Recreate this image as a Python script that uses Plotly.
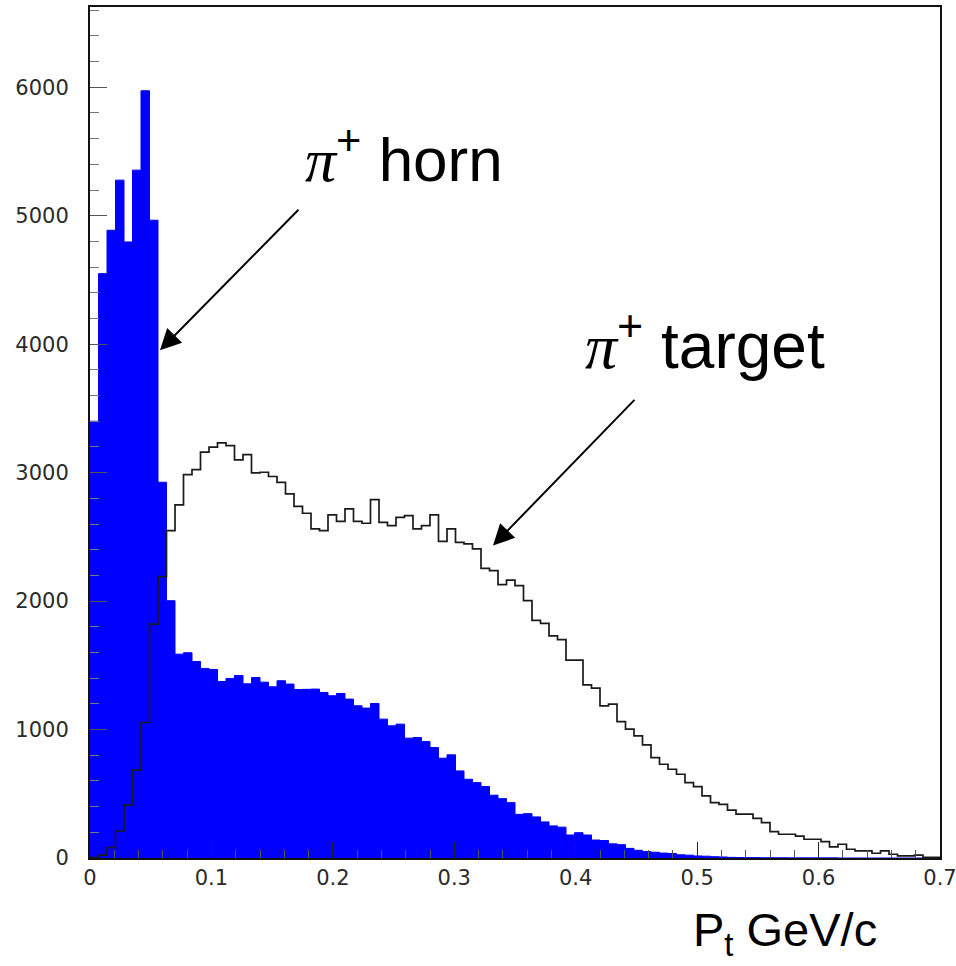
import numpy as np
import plotly.graph_objects as go

# ---- data: 100 bins of width 0.007 GeV/c from 0 to 0.7 ----
bin_width = 0.007
bin_edges = [round(i * bin_width, 3) for i in range(101)]

horn_counts = [
    3400, 4549, 4887, 5277, 4796, 5355, 5973, 4965, 2925, 2003,
    1587, 1598, 1530, 1476, 1468, 1374, 1398, 1421, 1356, 1405,
    1369, 1333, 1380, 1354, 1312, 1313, 1315, 1289, 1263, 1281,
    1237, 1185, 1167, 1203, 1081, 1029, 1042, 933, 938, 906,
    860, 777, 803, 678, 613, 587, 556, 489, 462, 431,
    340, 345, 320, 281, 250, 240, 179, 197, 179, 140,
    136, 110, 104, 75, 60, 50, 45, 38, 35, 25,
    22, 16, 14, 10, 8, 5, 4, 3, 3, 2,
    2, 2, 1, 1, 1, 1, 1, 1, 0, 0,
    0, 0, 0, 0, 0, 0, 0, 0, 0, 0,
]

target_counts = [
    3, 23, 80, 210, 411, 684, 1055, 1821, 2190, 2549,
    2749, 2985, 3024, 3159, 3198, 3232, 3211, 3100, 3141, 2998,
    3003, 2970, 2925, 2835, 2738, 2684, 2562, 2549, 2671, 2621,
    2718, 2621, 2606, 2790, 2613, 2588, 2652, 2666, 2562, 2588,
    2671, 2465, 2562, 2457, 2445, 2406, 2255, 2237, 2128, 2164,
    2120, 2003, 1850, 1826, 1730, 1700, 1541, 1541, 1348, 1322,
    1185, 1198, 1062, 1003, 951, 881, 782, 730, 691, 652,
    587, 556, 483, 431, 418, 372, 341, 341, 309, 275,
    205, 185, 185, 171, 146, 146, 127, 86, 107, 68,
    55, 55, 37, 55, 29, 16, 16, 23, 5, 5,
]

x_tick_vals = [0, 0.1, 0.2, 0.3, 0.4, 0.5, 0.6, 0.7]
x_tick_text = ["0", "0.1", "0.2", "0.3", "0.4", "0.5", "0.6", "0.7"]
y_tick_vals = [0, 1000, 2000, 3000, 4000, 5000, 6000]
y_tick_text = ["0", "1000", "2000", "3000", "4000", "5000", "6000"]

# arrows: tip (x, y) and tail (ax, ay) in data coordinates
horn_arrow = dict(x=0.0576, y=3952, ax=0.1729, ay=5058)
target_arrow = dict(x=0.3319, y=2432, ax=0.4496, ay=3578)

x_title = "P<sub>t</sub> GeV/c"
PI = '<span style="font-family:\'Liberation Serif\',\'DejaVu Serif\',serif;font-style:italic">π</span>'
label_horn = PI + "<sup>+</sup> horn"
label_target = PI + "<sup>+</sup> target"

# step outlines: left edges + final right edge
def step_xy(counts):
    xs = list(bin_edges[:-1]) + [bin_edges[-1]]
    ys = list(counts) + [counts[-1]]
    return xs, ys

hx, hy = step_xy(horn_counts)
tx, ty = step_xy(target_counts)

fig = go.Figure()
fig.add_trace(go.Scatter(
    x=hx, y=hy, mode="lines", line=dict(shape="hv", color="#0000ff", width=1),
    fill="tozeroy", fillcolor="#0000ff", hoverinfo="skip", showlegend=False,
))
fig.add_trace(go.Scatter(
    x=tx, y=ty, mode="lines", line=dict(shape="hv", color="#1a1a1a", width=1.7),
    hoverinfo="skip", showlegend=False,
))

tick_font = dict(family="DejaVu Sans", size=21, color="#2a2a2a")

fig.update_xaxes(
    range=[0, 0.7], tickvals=x_tick_vals, ticktext=x_tick_text,
    ticks="inside", ticklen=16, tickwidth=1, tickcolor="#222",
    minor=dict(dtick=0.02, ticks="inside", ticklen=8, tickwidth=1, tickcolor="#555", showgrid=False),
    showline=True, linewidth=2, linecolor="#111", mirror=True, automargin=False,
    ticklabeloverflow="allow",
    showgrid=False, zeroline=False, tickfont=tick_font, ticklabelstandoff=0,
)
fig.update_yaxes(
    range=[0, 6625], tickvals=y_tick_vals, ticktext=y_tick_text,
    ticks="inside", ticklen=17, tickwidth=1, tickcolor="#555",
    minor=dict(dtick=200, ticks="inside", ticklen=9, tickwidth=1, tickcolor="#777", showgrid=False),
    showline=True, linewidth=2, linecolor="#111", mirror=True, automargin=False,
    showgrid=False, zeroline=False, tickfont=tick_font, ticklabelstandoff=15,
)

for arr in (horn_arrow, target_arrow):
    fig.add_annotation(x=arr["x"], y=arr["y"], ax=arr["ax"], ay=arr["ay"],
                       xref="x", yref="y", axref="x", ayref="y", text="",
                       showarrow=True, arrowhead=2, arrowsize=2.1, arrowwidth=2,
                       arrowcolor="black")

fig.add_annotation(x=(303 - 90) / 850, y=(858 - 155) / 851, xref="paper", yref="paper",
                   xanchor="left", yanchor="middle", text=label_horn, showarrow=False,
                   font=dict(family="Liberation Sans, Arial", size=62, color="black"))
fig.add_annotation(x=(583 - 90) / 850, y=(858 - 341) / 851, xref="paper", yref="paper",
                   xanchor="left", yanchor="middle", text=label_target, showarrow=False,
                   font=dict(family="Liberation Sans, Arial", size=64, color="black"))
fig.add_annotation(x=(785 - 90) / 850, y=(858 - 933) / 851, xref="paper", yref="paper",
                   xanchor="center", yanchor="middle", text=x_title, showarrow=False,
                   font=dict(family="Liberation Sans, Arial", size=47, color="black"))

fig.update_layout(
    width=956, height=966, margin=dict(l=90, r=16, t=7, b=108),
    paper_bgcolor="white", plot_bgcolor="white",
)
fig.write_html("out.html")
